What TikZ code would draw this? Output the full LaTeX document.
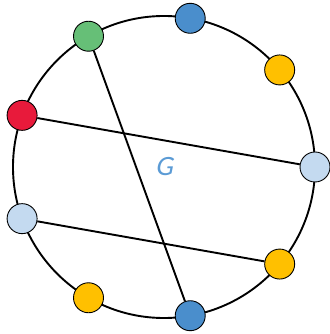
\documentclass[tikz,border=0pt]{standalone}
\usepackage{fontspec}
\newfontfamily\glabelfont{Carlito}[FakeSlant=0.2]
\usetikzlibrary{calc}
\definecolor{vblue}{HTML}{4A8ECC}
\definecolor{vyellow}{HTML}{FFC000}
\definecolor{vgreen}{HTML}{66BF77}
\definecolor{vred}{HTML}{E81A3B}
\definecolor{vlight}{HTML}{C4DAF0}
\definecolor{glabel}{HTML}{5B9BD5}
\tikzstyle{vertex} = [circle, draw=black, line width=0.9pt, minimum size=30pt, inner sep=0pt]
\tikzstyle{edge} = [line width=1.9pt]
\begin{document}
\begin{tikzpicture}[x=1pt, y=1pt]
\useasboundingbox (0,0) rectangle (329,334);
\coordinate (c) at (164,167);
\draw[edge] (c) circle (151);
\node (lt) [vertex, fill=vlight] at ($(c)+(0:151)$) {};
\node (y1) [vertex, fill=vyellow] at ($(c)+(40:151)$) {};
\node (b1) [vertex, fill=vblue] at ($(c)+(80:151)$) {};
\node (gr) [vertex, fill=vgreen] at ($(c)+(120:151)$) {};
\node (rd) [vertex, fill=vred] at ($(c)+(160:151)$) {};
\node (lf) [vertex, fill=vlight] at ($(c)+(200:151)$) {};
\node (y2) [vertex, fill=vyellow] at ($(c)+(240:151)$) {};
\node (b2) [vertex, fill=vblue] at ($(c)+(280:151)$) {};
\node (y3) [vertex, fill=vyellow] at ($(c)+(320:151)$) {};
\node (label) at (c) {\fontsize{28}{30}\selectfont\glabelfont\color{glabel}G};

\draw[edge] (gr) -- (b2);
\draw[edge] (rd) -- (lt);
\draw[edge] (lf) -- (y3);
\end{tikzpicture}
\end{document}
